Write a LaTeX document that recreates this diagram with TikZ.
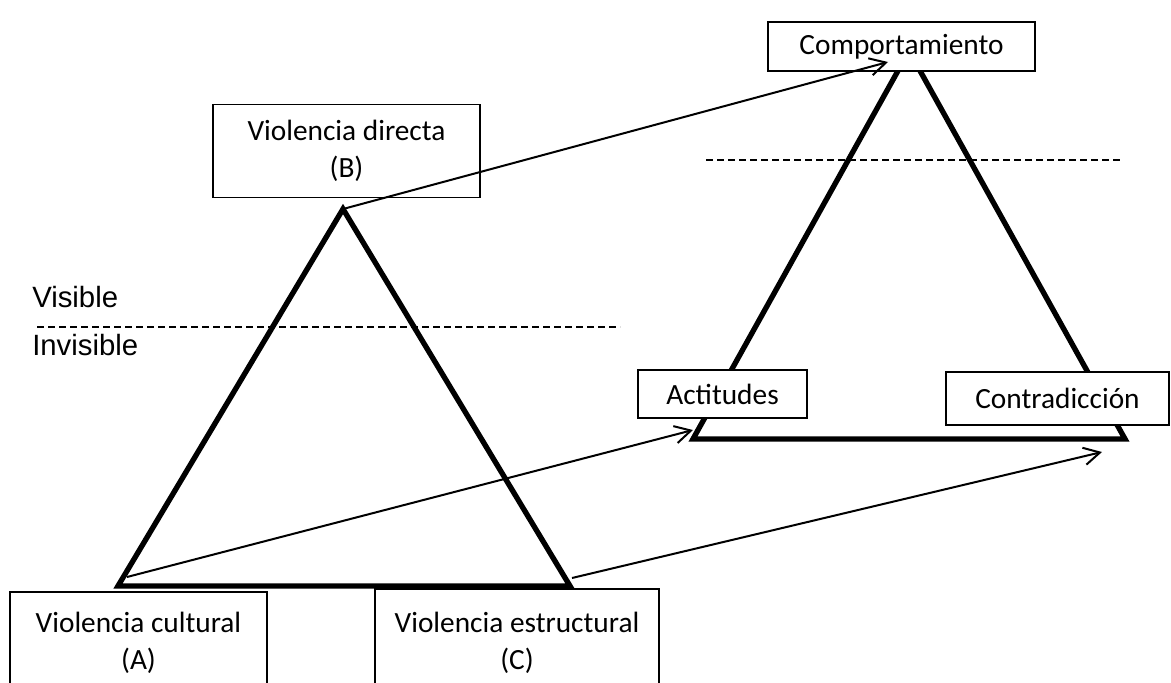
\documentclass[tikz,border=0pt]{standalone}
\usepackage{fontspec}
\setmainfont{Carlito}
\newfontfamily\arialf{Liberation Sans}
\usetikzlibrary{arrows.meta}
\begin{document}
\begin{tikzpicture}[x=0.75pt,y=-0.75pt,
  box/.style={draw, line width=1pt, fill=white, align=center, inner sep=0pt, font=\fontsize{22}{27.75}\selectfont},
  tri/.style={line width=4pt, line join=miter},
  arr/.style={line width=1.5pt, -{Straight Barb[length=12pt,width=13pt,line width=1.5pt]}},
  dashline/.style={line width=1.2pt, dash pattern=on 5.25pt off 3pt},
  lbl/.style={font=\arialf\fontsize{22}{26}\selectfont, inner sep=0pt, anchor=base west}]
\useasboundingbox (0,0) rectangle (1171,682);
% triangle vertices
\coordinate (LT) at (343,209);
\coordinate (LL) at (118,586);
\coordinate (LR) at (570,586);
\coordinate (RT) at (909,51);
\coordinate (RL) at (693,439);
\coordinate (RR) at (1125,439);
% triangles
\draw[tri] (LT) -- (LL) -- (LR) -- cycle;
\draw[tri] (RT) -- (RL) -- (RR) -- cycle;
% boxes
\node[box, minimum width=192.75pt, minimum height=76.5pt] (A) at (138.5,643) {Violencia cultural\\(A)};
\node[box, minimum width=213pt, minimum height=81pt] (C) at (517,643) {Violencia estructural\\(C)};
\node[box, minimum width=200.25pt, minimum height=69.75pt] (B) at (346.5,151) {Violencia directa\\(B)};
\node[box, minimum width=200.25pt, minimum height=36.75pt] (Comp) at (901.5,46.5) {Comportamiento};
\node[box, minimum width=126.75pt, minimum height=36pt] (Act) at (722.5,394) {Actitudes};
\node[box, minimum width=167.25pt, minimum height=39.75pt] (Contr) at (1057.5,398.5) {Contradicción};
% arrow ends
\coordinate (S3) at (572,578);
\coordinate (S2) at (127,577);
\coordinate (E1) at (888,62);
\coordinate (E2) at (693,430);
\coordinate (E3) at (1102,452);
\draw[arr] (LT) -- (E1);
\draw[arr] (S2) -- (E2);
\draw[arr] (S3) -- (E3);
% dashed lines
\coordinate (D1a) at (37,327);
\coordinate (D1b) at (620,327);
\coordinate (D2a) at (706,160);
\coordinate (D2b) at (1120,160);
\draw[dashline] (D1a) -- (D1b);
\draw[dashline] (D2a) -- (D2b);
% labels
\node[lbl] (vis) at (32,307) {Visible};
\node[lbl] (invis) at (32,355) {Invisible};
\end{tikzpicture}
\end{document}
